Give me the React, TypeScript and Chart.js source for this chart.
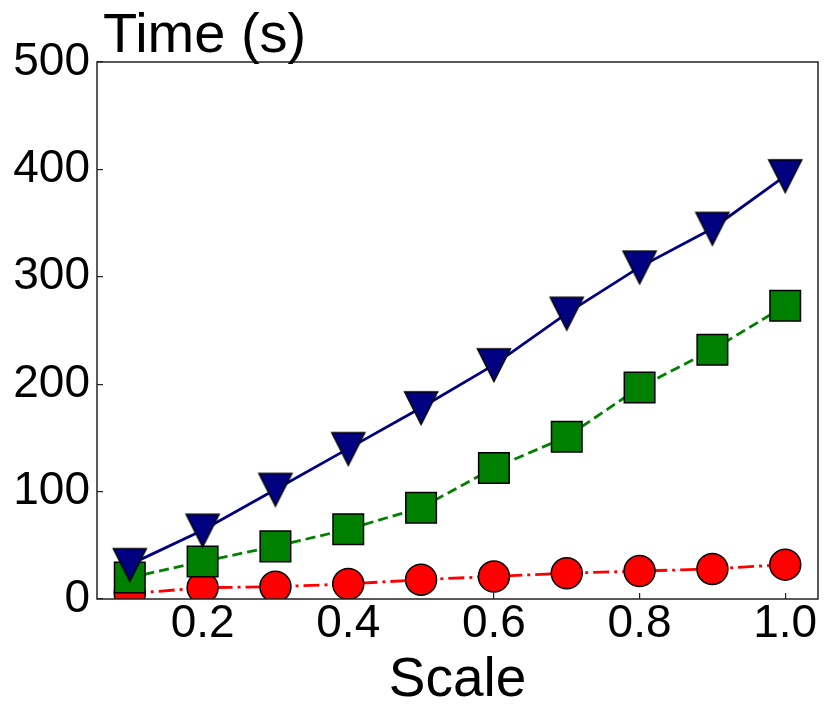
import React, { useEffect, useRef } from 'react';
import { Chart, registerables } from 'chart.js';

Chart.register(...registerables);

const scales = [0.1, 0.2, 0.3, 0.4, 0.5, 0.6, 0.7, 0.8, 0.9, 1.0];
const blueTimes = [32, 64, 102, 140, 178, 218, 266, 309, 345, 394];
const greenTimes = [20, 35, 49, 65, 85, 122, 151, 197, 232, 273];
const redTimes = [5, 10.5, 11.5, 14, 18, 21, 24, 26, 28, 32];
const xTicks = [0.2, 0.4, 0.6, 0.8, 1.0];
const yTicks = [0, 100, 200, 300, 400, 500];

const FONT = '"Liberation Sans", Arial, sans-serif';

// matplotlib-like 'v' marker (centred on its bounding box)
const makeTriangle = () => {
  const c = document.createElement('canvas');
  c.width = 38;
  c.height = 38;
  const ctx = c.getContext('2d');
  ctx.beginPath();
  ctx.moveTo(2.5, 3);
  ctx.lineTo(35.5, 3);
  ctx.lineTo(19, 35.5);
  ctx.closePath();
  ctx.fillStyle = '#000080';
  ctx.fill();
  ctx.lineWidth = 1.5;
  ctx.strokeStyle = '#000';
  ctx.stroke();
  return c;
};

// box around the plot + the "Time (s)" label
const framePlugin = {
  id: 'frame',
  afterDraw(chart) {
    const { ctx, chartArea } = chart;
    ctx.save();
    ctx.strokeStyle = '#222';
    ctx.lineWidth = 1.5;
    ctx.strokeRect(chartArea.left, chartArea.top, chartArea.right - chartArea.left, chartArea.bottom - chartArea.top);
    ctx.fillStyle = '#000';
    ctx.font = `56px ${FONT}`;
    ctx.textAlign = 'left';
    ctx.textBaseline = 'alphabetic';
    ctx.fillText('Time (s)', chartArea.left + 6, 52);
    ctx.restore();
  },
};

export default function App() {
  const chartRef = useRef(null);
  const chartInstance = useRef(null);

  useEffect(() => {
    document.body.style.margin = '0';
    if (!chartRef.current) return;
    if (chartInstance.current) chartInstance.current.destroy();

    chartInstance.current = new Chart(chartRef.current, {
      type: 'line',
      data: {
        labels: scales,
        datasets: [
          {
            data: scales.map((x, i) => ({ x, y: blueTimes[i] })),
            borderColor: '#000080',
            borderWidth: 2.8,
            pointStyle: makeTriangle(),
            pointBorderColor: '#000',
          },
          {
            data: scales.map((x, i) => ({ x, y: greenTimes[i] })),
            borderColor: '#008000',
            borderWidth: 2.8,
            borderDash: [10, 5],
            pointStyle: 'rect',
            pointRadius: 21.6,
            pointBackgroundColor: '#008000',
            pointBorderColor: '#000',
            pointBorderWidth: 1.5,
          },
          {
            data: scales.map((x, i) => ({ x, y: redTimes[i] })),
            borderColor: '#ff0000',
            borderWidth: 2.8,
            borderDash: [16, 5, 3, 5],
            pointStyle: 'circle',
            pointRadius: 15.5,
            pointBackgroundColor: '#ff0000',
            pointBorderColor: '#000',
            pointBorderWidth: 1.5,
          },
        ],
      },
      options: {
        responsive: false,
        animation: false,
        events: [],
        layout: { autoPadding: false, padding: { left: 0, right: 12, top: 62, bottom: 0 } },
        plugins: {
          legend: { display: false },
          tooltip: { enabled: false },
        },
        scales: {
          x: {
            type: 'linear',
            min: 0.055,
            max: 1.045,
            afterBuildTicks: (s) => {
              s.ticks = xTicks.map((v) => ({ value: v }));
            },
            afterFit: (s) => {
              s.height = 120;
              s.paddingLeft = 0;
              s.paddingRight = 0;
            },
            grid: { drawOnChartArea: false, tickLength: -6, color: '#222', lineWidth: 1.2 },
            border: { display: false },
            ticks: {
              color: '#000',
              font: { family: FONT, size: 46 },
              padding: 4,
              maxRotation: 0,
              callback: (v) => Number(v).toFixed(1),
            },
            title: {
              display: true,
              text: 'Scale',
              color: '#000',
              font: { family: FONT, size: 55 },
              padding: { top: 0, bottom: 5 },
            },
          },
          y: {
            min: 0,
            max: 500,
            afterBuildTicks: (s) => {
              s.ticks = yTicks.map((v) => ({ value: v }));
            },
            afterFit: (s) => {
              s.width = 97;
              s.paddingTop = 0;
              s.paddingBottom = 0;
            },
            grid: { drawOnChartArea: false, tickLength: -6, color: '#222', lineWidth: 1.2 },
            border: { display: false },
            ticks: {
              color: '#000',
              font: { family: FONT, size: 46 },
              padding: 13,
            },
          },
        },
      },
      plugins: [framePlugin],
    });

    return () => {
      if (chartInstance.current) {
        chartInstance.current.destroy();
        chartInstance.current = null;
      }
    };
  }, []);

  return (
    <div style={{ width: 830, height: 719 }}>
      <canvas ref={chartRef} width={830} height={719}></canvas>
    </div>
  );
}
